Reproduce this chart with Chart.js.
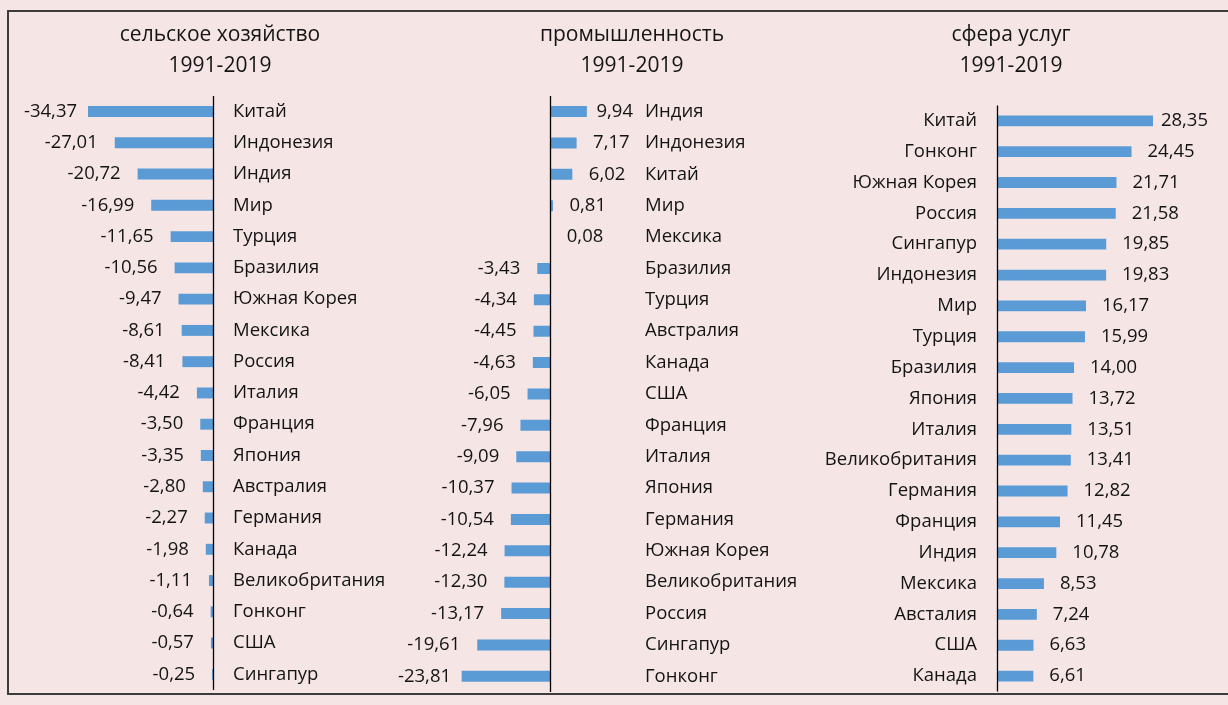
<!DOCTYPE html>
<html lang="ru">
<head>
<meta charset="utf-8">
<title>Изменение структуры занятости 1991-2019</title>
<script src="https://cdn.jsdelivr.net/npm/chart.js@4.4.1/dist/chart.umd.min.js"></script>
<style>
  html, body { margin: 0; padding: 0; background: #f5e5e5; }
  body { width: 1228px; height: 705px; position: relative; overflow: hidden; }
  .frame { position: absolute; left: 7px; top: 10px; width: 1240px; height: 685px; border: 2px solid #3c3c3c; box-sizing: border-box; }
  canvas { position: absolute; top: 0; }
</style>
</head>
<body>
<div class="frame"></div>
<canvas id="agri" width="440" height="705" style="left:0px"></canvas>
<canvas id="industry" width="504" height="705" style="left:380px"></canvas>
<canvas id="services" width="422" height="705" style="left:800px"></canvas>
<script>
const agriLabels = ['Китай', 'Индонезия', 'Индия', 'Мир', 'Турция', 'Бразилия', 'Южная Корея', 'Мексика', 'Россия',
  'Италия', 'Франция', 'Япония', 'Австралия', 'Германия', 'Канада', 'Великобритания', 'Гонконг', 'США', 'Сингапур'];
const agriValues = [-34.37, -27.01, -20.72, -16.99, -11.65, -10.56, -9.47, -8.61, -8.41,
  -4.42, -3.50, -3.35, -2.80, -2.27, -1.98, -1.11, -0.64, -0.57, -0.25];

const industryLabels = ['Индия', 'Индонезия', 'Китай', 'Мир', 'Мексика', 'Бразилия', 'Турция', 'Австралия', 'Канада',
  'США', 'Франция', 'Италия', 'Япония', 'Германия', 'Южная Корея', 'Великобритания', 'Россия', 'Сингапур', 'Гонконг'];
const industryValues = [9.94, 7.17, 6.02, 0.81, 0.08, -3.43, -4.34, -4.45, -4.63,
  -6.05, -7.96, -9.09, -10.37, -10.54, -12.24, -12.30, -13.17, -19.61, -23.81];

const servicesLabels = ['Китай', 'Гонконг', 'Южная Корея', 'Россия', 'Сингапур', 'Индонезия', 'Мир', 'Турция', 'Бразилия',
  'Япония', 'Италия', 'Великобритания', 'Германия', 'Франция', 'Индия', 'Мексика', 'Австалия', 'США', 'Канада'];
const servicesValues = [28.35, 24.45, 21.71, 21.58, 19.85, 19.83, 16.17, 15.99, 14.00,
  13.72, 13.51, 13.41, 12.82, 11.45, 10.78, 8.53, 7.24, 6.63, 6.61];

const period = '1991-2019';
const FONT = "'Open Sans', 'Noto Sans', sans-serif";
const TEXT = '#141414';
const BAR = '#5b9bd5';

Chart.defaults.font.family = FONT;
Chart.defaults.color = TEXT;

const fmt = v => v.toFixed(2).replace('.', ',');

// vertical line at zero, like the category axis in the original
const zeroLine = {
  id: 'zeroLine',
  afterDatasetsDraw(chart) {
    const { ctx, chartArea, scales } = chart;
    const x = Math.round(scales.x.getPixelForValue(0)) + 0.5;
    ctx.save();
    ctx.strokeStyle = '#000';
    ctx.lineWidth = 1.3;
    ctx.beginPath();
    ctx.moveTo(x, chartArea.top);
    ctx.lineTo(x, chartArea.bottom);
    ctx.stroke();
    ctx.restore();
  }
};

// value labels outside the bar ends
const valueLabels = {
  id: 'valueLabels',
  afterDraw(chart, args, o) {
    const { ctx } = chart;
    const values = chart.data.datasets[0].data;
    ctx.save();
    ctx.font = `18.5px ${FONT}`;
    ctx.fillStyle = TEXT;
    ctx.textBaseline = 'middle';
    ctx.textAlign = 'left';
    chart.getDatasetMeta(0).data.forEach((bar, i) => {
      const v = values[i];
      const t = fmt(v);
      const w = ctx.measureText(t).width;
      let left;
      if (v < 0) {
        left = Math.max(bar.x - o.gapNeg - w, o.minLeft);
      } else {
        left = bar.x + o.gapPos;
        if (left + w > o.maxRight) left = o.maxRight - w;
      }
      ctx.fillText(t, left, bar.y);
    });
    ctx.restore();
  }
};

function makeChart(id, title, labels, values, cfg) {
  return new Chart(document.getElementById(id), {
    type: 'bar',
    data: {
      labels: labels,
      datasets: [{ data: values, backgroundColor: BAR, borderWidth: 0, barPercentage: 0.35, categoryPercentage: 1 }]
    },
    options: {
      indexAxis: 'y',
      responsive: false,
      animation: false,
      devicePixelRatio: 1,
      layout: { padding: { bottom: cfg.bottom } },
      plugins: {
        legend: { display: false },
        tooltip: { enabled: false },
        title: {
          display: true,
          text: [title, period],
          color: TEXT,
          font: { size: 21, weight: 'normal', lineHeight: 1.45 },
          padding: { top: 20, bottom: cfg.titleGap }
        },
        valueLabels: cfg.labels
      },
      scales: {
        x: { display: false, min: cfg.min, max: cfg.max },
        y: {
          position: cfg.side,
          grid: { display: false, drawTicks: false },
          border: { display: false },
          ticks: { autoSkip: false, padding: cfg.tickPad, color: TEXT, font: { size: 18.5 } },
          afterFit: s => {
            s.width = cfg.axisWidth;
            s.paddingTop = 0;
            s.paddingBottom = 0;
          }
        }
      }
    },
    plugins: [zeroLine, valueLabels]
  });
}

// canvas starts at the left edge of the plot area, so min sets where zero falls
makeChart('agri', 'сельское хозяйство', agriLabels, agriValues, {
  min: -58.57, max: 0, side: 'right', axisWidth: 227, tickPad: 20, titleGap: 15, bottom: 15,
  labels: { gapNeg: 17, gapPos: 16, minLeft: 24, maxRight: 0 }
});

makeChart('industry', 'промышленность', industryLabels, industryValues, {
  min: -45.82, max: 20, side: 'right', axisWidth: 259.8, tickPad: 20.8, titleGap: 15, bottom: 13,
  labels: { gapNeg: 17, gapPos: 16.5, minLeft: 18, maxRight: 253 }
});

makeChart('services', 'сфера услуг', servicesLabels, servicesValues, {
  min: 0, max: 40.89, side: 'left', axisWidth: 197, tickPad: 20, titleGap: 24.5, bottom: 13.5,
  labels: { gapNeg: 17, gapPos: 16, minLeft: 0, maxRight: 408 }
});
</script>
</body>
</html>
